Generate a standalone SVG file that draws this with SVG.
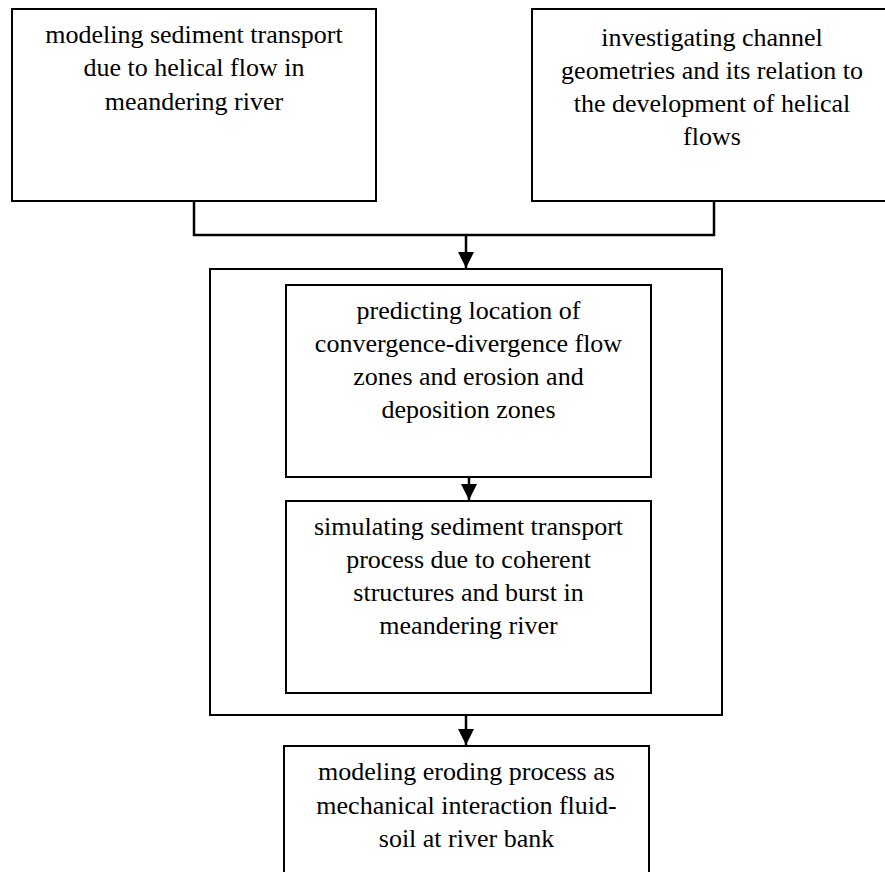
<svg xmlns="http://www.w3.org/2000/svg" width="885" height="872" viewBox="0 0 885 872">
<defs>
<style>
.box{fill:#fff;stroke:#000;stroke-width:2}
.t{font-family:"Liberation Serif","Times New Roman",serif;font-size:26px;fill:#000;text-anchor:middle}
.c{fill:none;stroke:#000;stroke-width:2.5}
</style>
<marker id="ah" markerWidth="16" markerHeight="16" viewBox="0 0 16 16" refX="16" refY="8" orient="auto" markerUnits="userSpaceOnUse">
<path d="M0,0 L16,8 L0,16 Z" fill="#000"/>
</marker>
</defs>
<rect width="885" height="872" fill="#fff"/>
<g id="n1">
<rect class="box" x="12" y="9" width="364" height="192"/>
<text class="t" x="194" y="43">modeling sediment transport</text>
<text class="t" x="194" y="76">due to helical flow in</text>
<text class="t" x="194" y="110">meandering river</text>
</g>
<g id="n2">
<rect class="box" x="532" y="9" width="364" height="192"/>
<text class="t" x="712" y="46">investigating channel</text>
<text class="t" x="712" y="79">geometries and its relation to</text>
<text class="t" x="712" y="112">the development of helical</text>
<text class="t" x="712" y="145">flows</text>
</g>
<g id="outer">
<rect class="box" x="210" y="269" width="512" height="446"/>
</g>
<g id="n3">
<rect class="box" x="286" y="285" width="365" height="192"/>
<text class="t" x="468.5" y="319">predicting location of</text>
<text class="t" x="468.5" y="352">convergence-divergence flow</text>
<text class="t" x="468.5" y="385">zones and erosion and</text>
<text class="t" x="468.5" y="418">deposition zones</text>
</g>
<g id="n4">
<rect class="box" x="286" y="501" width="365" height="192"/>
<text class="t" x="468.5" y="535">simulating sediment transport</text>
<text class="t" x="468.5" y="568">process due to coherent</text>
<text class="t" x="468.5" y="601">structures and burst in</text>
<text class="t" x="468.5" y="634">meandering river</text>
</g>
<g id="n5">
<rect class="box" x="284" y="746" width="365" height="140"/>
<text class="t" x="466.5" y="780">modeling eroding process as</text>
<text class="t" x="466.5" y="814">mechanical interaction fluid-</text>
<text class="t" x="466.5" y="847">soil at river bank</text>
</g>
<g id="connectors">
<polyline class="c" points="194,201 194,235 714,235 714,201"/>
<line class="c" x1="466" y1="235" x2="466" y2="268" marker-end="url(#ah)"/>
<line class="c" x1="469" y1="477" x2="469" y2="500" marker-end="url(#ah)"/>
<line class="c" x1="466" y1="715" x2="466" y2="745" marker-end="url(#ah)"/>
</g>
</svg>
